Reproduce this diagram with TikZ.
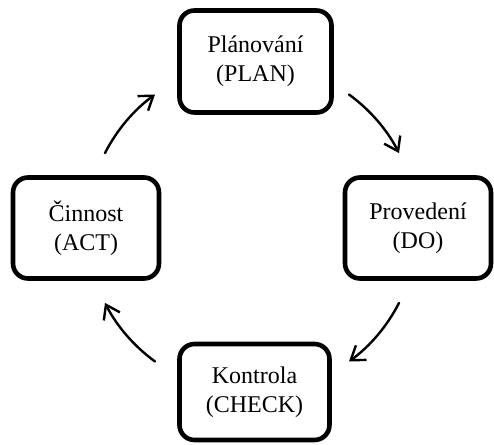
\documentclass[tikz,border=0pt]{standalone}
\usepackage{fontspec}
\setmainfont{Liberation Serif}
\usetikzlibrary{arrows.meta}
\begin{document}
\begin{tikzpicture}[x=1pt,y=1pt,
  stage/.style={draw, line width=4.6pt, rounded corners=15pt, align=center,
    inner sep=0pt, font=\fontsize{24}{29}\selectfont},
  cyc/.style={line width=2.4pt, line cap=round,
    -{Straight Barb[length=13pt,width=18pt,line width=2.4pt]}}]
\useasboundingbox (0,0) rectangle (494,-444);
% the four stages of the cycle
\node[stage, minimum width=152pt, minimum height=102pt] (plan)  at (255.5,-61.5) {Plánování\\(PLAN)};
\node[stage, minimum width=146pt, minimum height=101pt] (do)    at (418,-228)    {Provedení\\(DO)};
\node[stage, minimum width=150pt, minimum height=96pt]  (check) at (254.5,-392)  {Kontrola\\(CHECK)};
\node[stage, minimum width=146pt, minimum height=101pt] (act)   at (86,-228)     {Činnost\\(ACT)};
% arcs of one circle linking the stages clockwise
\coordinate (hub) at (252,-228);
\draw[cyc] ([shift={(54:165pt)}]hub)   arc[start angle=54,   end angle=27,   radius=165pt];
\draw[cyc] ([shift={(-27:165pt)}]hub)  arc[start angle=-27,  end angle=-54,  radius=165pt];
\draw[cyc] ([shift={(-126:165pt)}]hub) arc[start angle=-126, end angle=-153, radius=165pt];
\draw[cyc] ([shift={(153:165pt)}]hub)  arc[start angle=153,  end angle=126,  radius=165pt];
\end{tikzpicture}
\end{document}
